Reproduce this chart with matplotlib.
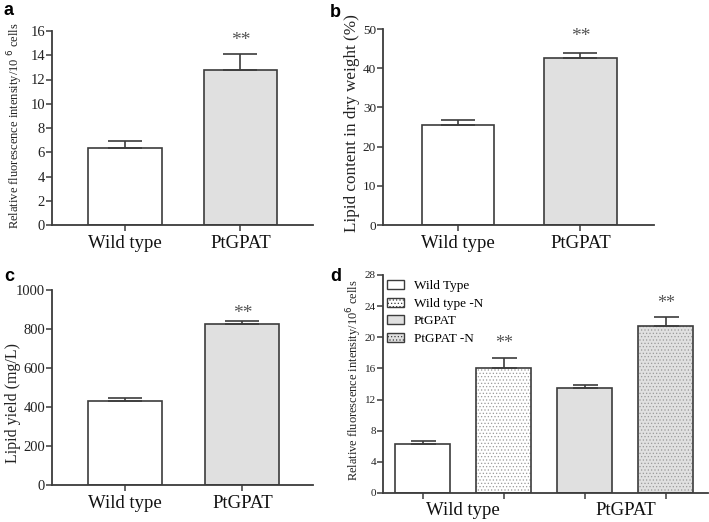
import numpy as np
import matplotlib.pyplot as plt
from matplotlib.patches import Patch

plt.rcParams['font.family'] = ['Liberation Serif', 'DejaVu Serif']
plt.rcParams['hatch.linewidth'] = 0.5

# data
groups = ['Wild type', 'PtGPAT']
fluor_vals = [6.35, 12.75]
fluor_err = [0.55, 1.35]
lipid_vals = [25.5, 42.7]
lipid_err = [1.4, 1.1]
yield_vals = [432, 825]
yield_err = [14, 15]

d_labels = ['Wild Type', 'Wild type -N', 'PtGPAT', 'PtGPAT -N']
d_vals = [6.3, 16.0, 13.5, 21.5]
d_err = [0.4, 1.35, 0.35, 1.1]
d_sig = [False, True, False, True]

W, H = 709, 522
EDGE = '#3c3c3c'
GRAY = '#e0e0e0'


def px_axes(fig, left, right, top, bottom):
    return fig.add_axes([left / W, 1 - bottom / H, (right - left) / W, (bottom - top) / H])


def style(ax, ylim, yticks, tick_fs):
    ax.set_ylim(*ylim)
    ax.set_yticks(yticks)
    for s in ['top', 'right']:
        ax.spines[s].set_visible(False)
    for s in ['left', 'bottom']:
        ax.spines[s].set_color(EDGE)
        ax.spines[s].set_linewidth(1.3)
    ax.tick_params(axis='y', direction='out', length=4, width=1.1, color=EDGE,
                   labelsize=tick_fs, pad=1, labelcolor='#222222')
    ax.tick_params(axis='x', direction='out', length=4, width=1.1, color=EDGE,
                   labelsize=13.5, pad=3, labelcolor='#111111')


def two_bar(ax, vals, errs, width, xlim, star_y, ecap):
    x = np.arange(len(vals))
    ax.bar(x, vals, width=width, color=['white', GRAY], edgecolor=EDGE, linewidth=1.2, zorder=2)
    ax.errorbar(x, vals, yerr=[np.zeros(len(errs)), errs], fmt='none', ecolor=EDGE,
                elinewidth=1.2, capsize=ecap, capthick=1.2, zorder=3)
    ax.set_xlim(*xlim)
    ax.set_xticks(x)
    ax.set_xticklabels(groups)
    ax.text(1, star_y, '**', ha='center', va='center', fontsize=14, color='#555555')


fig = plt.figure(figsize=(7.09, 5.22), dpi=100)

# panel a
ax_a = px_axes(fig, 52, 313, 31, 225)
two_bar(ax_a, fluor_vals, fluor_err, 0.64, (-0.632, 1.628), 15.2, 12)
style(ax_a, (0, 16), range(0, 17, 2), 10.5)
ax_a.set_ylabel('Relative fluorescence intensity/10 $^{6}$ cells', fontsize=9.0, color='#222222')
ax_a.yaxis.set_label_coords(-0.105, 0.51)

# panel b
ax_b = px_axes(fig, 383, 654, 29, 225)
two_bar(ax_b, lipid_vals, lipid_err, 0.59, (-0.61, 1.6), 48.0, 12)
style(ax_b, (0, 50), range(0, 51, 10), 9.5)
ax_b.set_ylabel('Lipid content in dry weight (%)', fontsize=12.3, color='#222222')
ax_b.yaxis.set_label_coords(-0.085, 0.52)

# panel c
ax_c = px_axes(fig, 52, 313, 290, 485)
two_bar(ax_c, yield_vals, yield_err, 0.63, (-0.62, 1.6), 880, 12)
style(ax_c, (0, 1000), range(0, 1001, 200), 10.5)
ax_c.set_ylabel('Lipid yield (mg/L)', fontsize=11.5, color='#222222')
ax_c.yaxis.set_label_coords(-0.119, 0.42)

# panel d
ax_d = px_axes(fig, 383, 708, 275, 493)
xd = np.arange(len(d_vals))
faces = ['white', 'white', GRAY, GRAY]
hatches = ['', '.....', '', '.....']
ax_d.bar(xd, d_vals, width=0.68, color=faces, edgecolor='#9a9a9a', linewidth=0, hatch=hatches, zorder=2)
ax_d.bar(xd, d_vals, width=0.68, color='none', edgecolor=EDGE, linewidth=1.2, zorder=2.5)
ax_d.errorbar(xd, d_vals, yerr=[np.zeros(len(d_err)), d_err], fmt='none', ecolor=EDGE,
              elinewidth=1.2, capsize=9, capthick=1.2, zorder=3)
for xi, v, e, s in zip(xd, d_vals, d_err, d_sig):
    if s:
        ax_d.text(xi, v + e + 1.8, '**', ha='center', va='center', fontsize=13, color='#555555')
ax_d.set_xlim(-0.49, 3.52)
style(ax_d, (0, 28), range(0, 29, 4), 8)
ax_d.set_xticks(xd)
ax_d.set_xticklabels([])
for gx, g in zip([0.5, 2.5], groups):
    ax_d.text(gx, -0.04, g, transform=ax_d.get_xaxis_transform(), ha='center', va='top',
              fontsize=13.5, color='#111111')
ax_d.set_ylabel('Relative fluorescence intensity/10$^{6}$ cells', fontsize=8.9, color='#222222')
ax_d.yaxis.set_label_coords(-0.058, 0.518)

handles = []
for f, h in zip(faces, hatches):
    handles.append(Patch(facecolor=f, edgecolor=EDGE, hatch=h, linewidth=1.0))
ax_d.legend(handles, d_labels, loc='upper left', bbox_to_anchor=(-0.005, 1.0), frameon=False,
            fontsize=9.5, handlelength=1.3, handleheight=0.65, handletextpad=0.75,
            labelspacing=0.42, borderaxespad=0.0)

# panel letters
for lx, ly, lab in [(3, 2, 'a'), (330, 4, 'b'), (4, 268, 'c'), (330, 268, 'd')]:
    fig.text(lx / W, 1 - ly / H, lab, ha='left', va='top', fontsize=13, fontweight='bold',
             family='Liberation Sans')

fig.savefig('out.png', dpi=100)
